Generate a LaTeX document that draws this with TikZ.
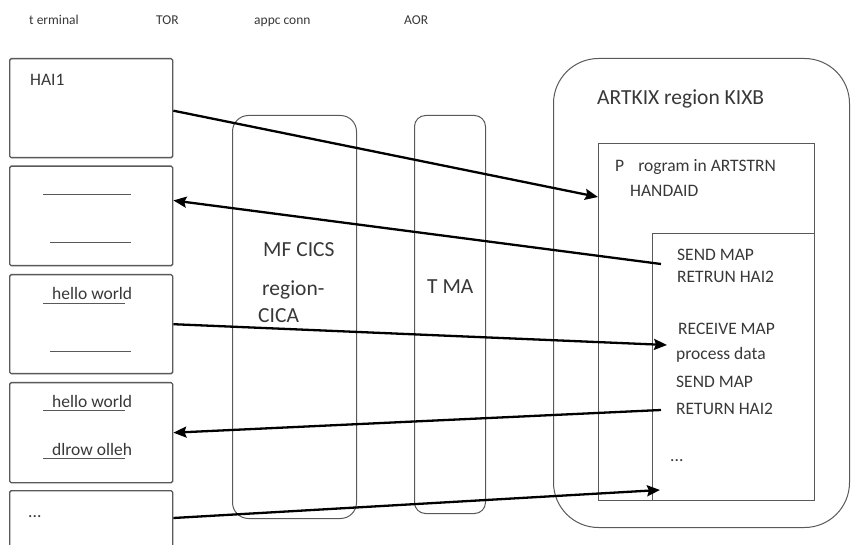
\documentclass[tikz,border=0pt]{standalone}
\usepackage{fontspec}
\setmainfont{Carlito}
\usetikzlibrary{arrows.meta}

\definecolor{boxgray}{gray}{0.35}
\definecolor{txtgray}{gray}{0.22}

\tikzset{
	term/.style={draw=boxgray, line width=1.4pt, rounded corners=1.5pt, anchor=north west, inner sep=0pt, minimum width=163pt},
	region/.style={draw=boxgray, line width=1pt, anchor=north west, inner sep=0pt},
	codebox/.style={draw=boxgray, line width=1.2pt, anchor=north west, inner sep=0pt},
	flow/.style={line width=2.3pt, -{Stealth[length=13pt, width=11pt, inset=2pt]}},
	uline/.style={draw=boxgray, line width=1pt},
	txt/.style={anchor=base west, inner sep=0pt, text=txtgray, font=\fontsize{17.5}{20}\selectfont},
	head/.style={anchor=base west, inner sep=0pt, text=txtgray, font=\fontsize{13.5}{16}\selectfont},
	big/.style={anchor=base west, inner sep=0pt, text=txtgray, font=\fontsize{21.5}{24}\selectfont}
}

\begin{document}
\begin{tikzpicture}[x=1pt, y=-1pt]
			\useasboundingbox (0,0) rectangle (852,545);
			\clip (0,0) rectangle (852,545);
			
			%column titles
			\node[head] (hterm) at (29,25){t erminal};
			\node[head] (htor) at (156,25){TOR};
			\node[head] (happc) at (254,25){appc conn};
			\node[head] (haor) at (404,25){AOR};
			
			%terminal screens
			\foreach \n/\y/\h in {1/58/99, 2/165.5/99.5, 3/274/99, 4/382/100, 5/490/110}{
				\node[term, minimum height=\h pt] (t\n) at (9,\y){};
			}
			\node[txt] (hai1) at (30,86){HAI1};
			\draw[uline] (43,195)--(131,195);
			\draw[uline] (50,243)--(131,243);
			\node[txt] (hello1) at (52,300){hello world};
			\draw[uline] (43,304)--(125,304);
			\draw[uline] (50,352)--(131,352);
			\node[txt] (hello2) at (52,408){hello world};
			\draw[uline] (43,410.5)--(125,410.5);
			\node[txt] (olleh) at (52,456){dlrow olleh};
			\draw[uline] (43,458)--(125,458);
			\node[txt] (dots1) at (28,517){...};
			
			%TOR and appc conn
			\node[region, rounded corners=16pt, minimum width=124pt, minimum height=403pt] (tor) at (232,115){};
			\node[big] (tor1) at (263,257){MF CICS};
			\node[big] (tor2) at (262,296){region-};
			\node[big] (tor3) at (258,323){CICA};
			\node[region, rounded corners=11pt, minimum width=71pt, minimum height=398pt] (tma) at (414,115){};
			\node[big] (tmalbl) at (427,294){T MA};
			
			%AOR
			\node[region, rounded corners=45pt, minimum width=296pt, minimum height=469pt] (aor) at (553,58){};
			\node[big] (kixb) at (597,105){ARTKIX region KIXB};
			\node[codebox, minimum width=216pt, minimum height=357pt] (prog) at (598,143){};
			\node[txt] (prog1) at (615,171.5){P\hspace{14pt}rogram in ARTSTRN};
			\node[txt] (prog2) at (630,196.5){HANDAID};
			\node[codebox, minimum width=162pt, minimum height=267pt] (code) at (652,233){};
			\node[txt] (c1) at (677,260.5){SEND MAP};
			\node[txt] (c2) at (677,283){RETRUN HAI2};
			\node[txt] (c3) at (678,335){RECEIVE MAP};
			\node[txt] (c4) at (676,360){process data};
			\node[txt] (c5) at (676,387.5){SEND MAP};
			\node[txt] (c6) at (676,415){RETURN HAI2};
			\node[txt] (c7) at (670,461.5){...};
			
			%flows
			\coordinate (sendA) at (661,264);
			\coordinate (recv) at (667,345);
			\coordinate (sendB) at (661,410);
			\coordinate (more) at (660,490);
			\draw[flow] ([yshift=-2.5pt]t1.east) -- ([yshift=-54pt]prog.north west);
			\draw[flow] (sendA) -- ([yshift=15.5pt]t2.east);
			\draw[flow] (t3.east) -- (recv);
			\draw[flow] (sendB) -- (t4.east);
			\draw[flow] ([yshift=-28pt]t5.north east) -- (more);
		\end{tikzpicture}
\end{document}
